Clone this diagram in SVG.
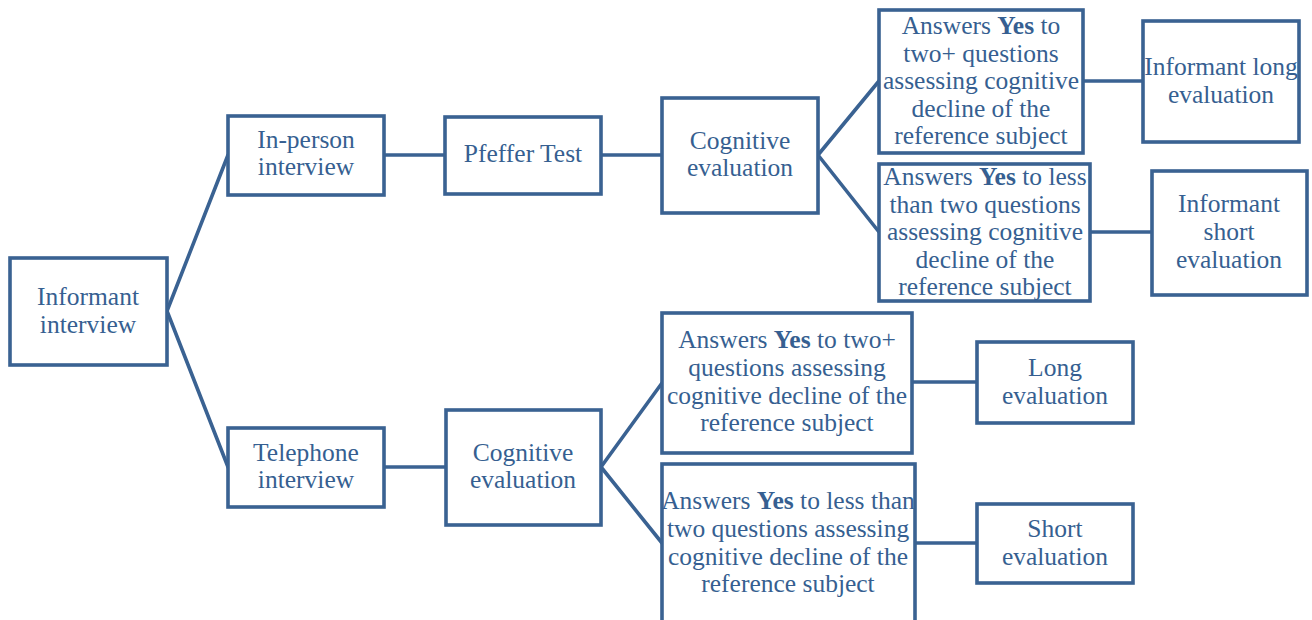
<svg xmlns="http://www.w3.org/2000/svg" width="1312" height="620" viewBox="0 0 1312 620">
<style>
rect{fill:#fff;stroke:#3a6292;stroke-width:3.6}
.c line{stroke:#3a6292;stroke-width:3.6;stroke-linecap:round}
text{font-family:"Liberation Serif","Times New Roman",serif;font-size:25.5px;fill:#365f91;text-anchor:middle}
.b{font-weight:bold}
</style>
<rect x="0" y="0" width="1312" height="620" style="stroke:none"/>
<g class="c" id="connectors">
<line x1="167" y1="311" x2="228" y2="155"/>
<line x1="167" y1="311" x2="228" y2="467"/>
<line x1="384" y1="155" x2="445" y2="155"/>
<line x1="601" y1="155" x2="662" y2="155"/>
<line x1="818" y1="155" x2="879" y2="81"/>
<line x1="818" y1="155" x2="879" y2="232"/>
<line x1="1083" y1="81" x2="1143" y2="81"/>
<line x1="1090" y1="232" x2="1152" y2="232"/>
<line x1="384" y1="467" x2="446" y2="467"/>
<line x1="601" y1="467" x2="662" y2="383"/>
<line x1="601" y1="467" x2="662" y2="543"/>
<line x1="912" y1="382" x2="977" y2="382"/>
<line x1="915" y1="543" x2="977" y2="543"/>
</g>
<g id="informant-interview"><rect x="10" y="258" width="157" height="107"/><text x="88" y="305">Informant</text><text x="88" y="333">interview</text></g>
<g id="in-person"><rect x="228" y="116" width="156" height="79"/><text x="306" y="148">In-person</text><text x="306" y="175">interview</text></g>
<g id="pfeffer"><rect x="445" y="117" width="156" height="77"/><text x="523" y="162">Pfeffer Test</text></g>
<g id="cog-top"><rect x="662" y="98" width="156" height="115"/><text x="740" y="149">Cognitive</text><text x="740" y="176">evaluation</text></g>
<g id="yes-top"><rect x="879" y="10" width="204" height="143"/>
<text x="981" y="34">Answers <tspan class="b">Yes</tspan> to</text>
<text x="981" y="62">two+ questions</text>
<text x="981" y="89">assessing cognitive</text>
<text x="981" y="117">decline of the</text>
<text x="981" y="144">reference subject</text></g>
<g id="less-top"><rect x="879" y="164" width="211" height="137"/>
<text x="985" y="185">Answers <tspan class="b">Yes</tspan> to less</text>
<text x="985" y="213">than two questions</text>
<text x="985" y="240">assessing cognitive</text>
<text x="985" y="268">decline of the</text>
<text x="985" y="295">reference subject</text></g>
<g id="informant-long"><rect x="1143" y="21" width="156" height="121"/><text x="1221" y="75">Informant long</text><text x="1221" y="103">evaluation</text></g>
<g id="informant-short"><rect x="1152" y="171" width="155" height="124"/><text x="1229" y="212">Informant</text><text x="1229" y="240">short</text><text x="1229" y="268">evaluation</text></g>
<g id="telephone"><rect x="228" y="428" width="156" height="79"/><text x="306" y="461">Telephone</text><text x="306" y="488">interview</text></g>
<g id="cog-bottom"><rect x="446" y="410" width="155" height="115"/><text x="523" y="461">Cognitive</text><text x="523" y="488">evaluation</text></g>
<g id="yes-bottom"><rect x="662" y="313" width="250" height="140"/>
<text x="787" y="348">Answers <tspan class="b">Yes</tspan> to two+</text>
<text x="787" y="376">questions assessing</text>
<text x="787" y="404">cognitive decline of the</text>
<text x="787" y="431">reference subject</text></g>
<g id="less-bottom"><rect x="662" y="464" width="253" height="170"/>
<text x="788" y="509">Answers <tspan class="b">Yes</tspan> to less than</text>
<text x="788" y="537">two questions assessing</text>
<text x="788" y="565">cognitive decline of the</text>
<text x="788" y="592">reference subject</text></g>
<g id="long"><rect x="977" y="342" width="156" height="81"/><text x="1055" y="376">Long</text><text x="1055" y="404">evaluation</text></g>
<g id="short"><rect x="977" y="504" width="156" height="79"/><text x="1055" y="537">Short</text><text x="1055" y="565">evaluation</text></g>
</svg>
